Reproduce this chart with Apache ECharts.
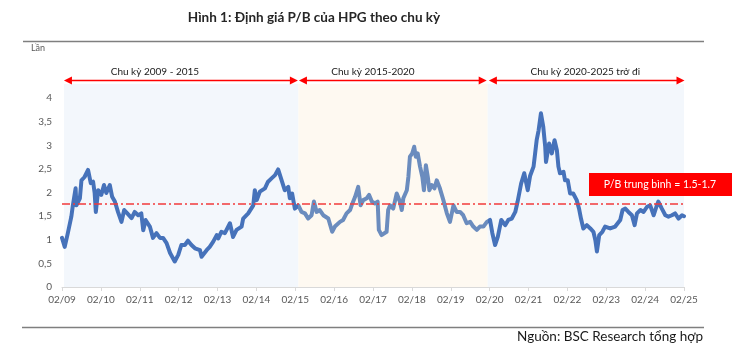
<!DOCTYPE html>
<html><head><meta charset="utf-8">
<script src="https://cdn.jsdelivr.net/npm/echarts@6/dist/echarts.min.js"></script>
<style>html,body{margin:0;padding:0;background:#fff}#c{width:732px;height:353px}</style>
</head><body><div id="c"></div>
<script>
// x = years since Feb 2009
const tickLabels = ['02/09','02/10','02/11','02/12','02/13','02/14','02/15','02/16','02/17','02/18','02/19','02/20','02/21','02/22','02/23','02/24','02/25'];
const pbTime = [0.00,0.07,0.15,0.24,0.28,0.35,0.37,0.46,0.50,0.58,
0.67,0.71,0.74,0.80,0.84,0.87,0.93,1.01,1.08,1.14,
1.23,1.29,1.36,1.44,1.53,1.60,1.68,1.79,1.87,1.96,
2.04,2.09,2.15,2.26,2.34,2.43,2.52,2.60,2.69,2.78,
2.90,2.99,3.07,3.16,3.24,3.33,3.42,3.55,3.59,3.72,
3.80,3.89,3.98,4.02,4.10,4.19,4.32,4.40,4.49,4.62,
4.66,4.79,4.92,4.96,5.01,5.09,5.22,5.30,5.39,5.48,
5.56,5.65,5.73,5.82,5.86,5.92,5.99,6.08,6.16,6.25,
6.33,6.42,6.48,6.55,6.63,6.72,6.85,6.95,7.02,7.15,
7.23,7.32,7.41,7.47,7.54,7.62,7.68,7.75,7.84,7.90,
7.97,8.05,8.12,8.15,8.22,8.26,8.35,8.39,8.44,8.52,
8.61,8.69,8.74,8.78,8.87,8.91,8.95,9.01,9.06,9.10,
9.15,9.21,9.27,9.31,9.36,9.41,9.45,9.51,9.58,9.64,
9.72,9.81,9.90,9.98,10.07,10.15,10.24,10.32,10.41,10.50,
10.58,10.67,10.75,10.84,10.93,11.01,11.07,11.14,11.21,11.30,
11.40,11.48,11.57,11.66,11.72,11.81,11.89,11.98,12.04,12.13,
12.17,12.21,12.26,12.32,12.38,12.43,12.45,12.53,12.60,12.67,
12.73,12.77,12.81,12.90,12.94,13.01,13.07,13.15,13.24,13.30,
13.35,13.41,13.50,13.59,13.67,13.72,13.76,13.82,13.90,13.97,
14.10,14.23,14.36,14.42,14.49,14.57,14.66,14.73,14.79,14.88,
14.96,15.05,15.13,15.22,15.29,15.34,15.43,15.52,15.60,15.69,
15.77,15.86,15.95,16.00];
const pbValue = [1.04,0.85,1.14,1.49,1.73,2.09,1.73,1.88,2.26,2.33,
2.48,2.51,2.20,2.23,1.99,1.59,2.05,1.95,2.16,1.99,
2.16,1.91,1.81,1.59,1.38,1.63,1.56,1.46,1.59,1.52,
1.56,1.20,1.42,1.28,1.04,1.14,1.04,1.04,0.93,0.72,
0.54,0.68,0.89,0.89,0.98,0.89,0.82,0.78,0.64,0.78,
0.85,0.96,1.10,1.03,1.17,1.14,1.35,1.06,1.21,1.28,
1.45,1.56,1.73,2.05,1.84,2.02,2.09,2.23,2.30,2.37,
2.49,2.26,2.05,2.12,1.88,1.98,1.66,1.73,1.59,1.56,
1.45,1.52,1.81,1.59,1.63,1.52,1.45,1.17,1.28,1.38,
1.42,1.56,1.63,1.77,1.91,2.12,1.73,1.84,1.88,1.95,
1.81,1.77,1.81,1.21,1.10,1.06,1.17,1.63,1.73,1.66,
1.98,1.81,1.63,1.88,2.05,2.33,2.76,2.83,2.97,2.76,
2.83,2.55,2.33,2.05,2.58,2.33,2.05,2.16,2.09,2.26,
2.09,1.84,1.56,1.38,1.73,1.59,1.59,1.52,1.35,1.38,
1.28,1.21,1.28,1.28,1.38,1.42,1.14,0.89,1.06,1.42,
1.31,1.42,1.45,1.59,1.81,2.19,2.41,2.05,2.35,2.55,
2.83,3.11,3.32,3.68,3.39,2.97,2.65,3.04,2.83,3.11,
2.90,2.55,2.41,2.44,2.26,2.26,1.98,1.98,1.84,1.66,
1.45,1.24,1.31,1.24,1.17,0.99,0.75,1.10,1.17,1.28,
1.24,1.28,1.42,1.63,1.66,1.59,1.52,1.31,1.56,1.63,
1.59,1.70,1.73,1.52,1.70,1.81,1.66,1.52,1.49,1.52,
1.56,1.45,1.52,1.50];
const cycleBounds = [0.05, 6.08, 10.95, 16.0];
const cycleNames = ['Chu kỳ 2009 - 2015', 'Chu kỳ 2015-2020', 'Chu kỳ 2020-2025 trở đi'];
const cycleLabelX = [2.39, 8.0, 13.46];
const arrowLevel = 4.38;
const avgPB = 1.77;
const avgLabel = 'P/B trung bình = 1.5-1.7';
const yMax = 4.3;

const FONT = 'Lato, "Noto Sans", sans-serif';
const chart = echarts.init(document.getElementById('c'));
const bgColors = ['#F3F7FC', '#FEF9F1', '#F3F7FC'];
const lineColors = ['#4672BA', '#6B8CBE', '#4672BA'];

chart.setOption({
  animation: false,
  textStyle: {fontFamily: FONT},
  grid: {left: 62, right: 48, top: 84, bottom: 66},
  xAxis: {
    type: 'value', min: 0, max: 16, interval: 1,
    axisLine: {lineStyle: {color: '#D9D9D9', width: 1}},
    axisTick: {show: true, length: 4, lineStyle: {color: '#D9D9D9'}},
    axisLabel: {color: '#595959', fontSize: 10, margin: 8, fontFamily: FONT,
      formatter: v => tickLabels[Math.round(v)] || ''},
    splitLine: {show: false}
  },
  yAxis: {
    type: 'value', min: 0, max: yMax, interval: 0.5,
    axisLine: {show: false}, axisTick: {show: false}, splitLine: {show: false},
    axisLabel: {color: '#595959', fontSize: 10, margin: 10, fontFamily: FONT,
      formatter: v => (v <= 4.0001 && Math.abs(v * 2 - Math.round(v * 2)) < 1e-6) ? String(v).replace('.', ',') : ''}
  },
  visualMap: {
    show: false, type: 'piecewise', dimension: 0, seriesIndex: 1,
    pieces: [
      {lt: cycleBounds[1], color: lineColors[0]},
      {gte: cycleBounds[1], lt: cycleBounds[2], color: lineColors[1]},
      {gte: cycleBounds[2], color: lineColors[2]}
    ]
  },
  series: [
    {
      type: 'line', data: [], z: 1, silent: true,
      markArea: {
        silent: true,
        data: cycleNames.map((n, i) => [
          {xAxis: cycleBounds[i], itemStyle: {color: bgColors[i]}},
          {xAxis: cycleBounds[i + 1]}
        ])
      }
    },
    {
      type: 'line', z: 2, symbol: 'none', showSymbol: false,
      lineStyle: {width: 4, join: 'round', cap: 'round'},
      data: pbTime.map((t, i) => [t, pbValue[i]])
    },
    {
      type: 'line', data: [], z: 3, silent: true,
      markLine: {
        silent: true, symbol: 'none', label: {show: false},
        lineStyle: {color: '#F23B3B', width: 1.6, type: [8, 3, 2, 3]},
        data: [{yAxis: avgPB}]
      }
    }
  ]
});

// annotations positioned through the axes
const px = (x, y) => chart.convertToPixel({gridIndex: 0}, [x, y]);
const graphics = [];
const gaps = [[0, -0.5], [0.6, -1], [1.2, 0.5]];
cycleNames.forEach((name, i) => {
  const a = px(cycleBounds[i], arrowLevel);
  const b = px(cycleBounds[i + 1], arrowLevel);
  const x0 = a[0] + gaps[i][0], x1 = b[0] + gaps[i][1], y = Math.round(a[1]) + 0.5;
  const L = 8, H = 4;
  graphics.push({type: 'line', shape: {x1: x0 + L - 1, y1: y, x2: x1 - L + 1, y2: y},
    style: {stroke: '#FF0000', lineWidth: 1.6}});
  graphics.push({type: 'polygon', shape: {points: [[x0, y], [x0 + L, y - H], [x0 + L, y + H]]},
    style: {fill: '#FF0000'}});
  graphics.push({type: 'polygon', shape: {points: [[x1, y], [x1 - L, y - H], [x1 - L, y + H]]},
    style: {fill: '#FF0000'}});
  const lp = px(cycleLabelX[i], arrowLevel);
  graphics.push({type: 'text', x: lp[0], y: y - 9,
    style: {text: name, font: '10px ' + FONT, fill: '#1A1A1A', textAlign: 'center', textVerticalAlign: 'middle'}});
});
// average label box
graphics.push({type: 'rect', shape: {x: 589, y: 173, width: 143, height: 23}, style: {fill: '#FF0000'}});
graphics.push({type: 'text', x: 660, y: 184.5,
  style: {text: avgLabel, font: '10.5px ' + FONT, fill: '#FFFFFF', textAlign: 'center', textVerticalAlign: 'middle'}});
// title, rules, unit, source
graphics.push({type: 'text', x: 314, y: 18,
  style: {text: 'Hình 1: Định giá P/B của HPG theo chu kỳ', font: 'bold 13.5px ' + FONT, fill: '#262626', textAlign: 'center', textVerticalAlign: 'middle'}});
graphics.push({type: 'line', shape: {x1: 23, y1: 41.5, x2: 704, y2: 41.5}, style: {stroke: '#7F7F7F', lineWidth: 1.3}});
graphics.push({type: 'line', shape: {x1: 22, y1: 327.5, x2: 704, y2: 327.5}, style: {stroke: '#7F7F7F', lineWidth: 1.3}});
graphics.push({type: 'text', x: 31, y: 48,
  style: {text: 'Lần', font: '9px ' + FONT, fill: '#595959', textAlign: 'left', textVerticalAlign: 'middle'}});
graphics.push({type: 'text', x: 703, y: 337,
  style: {text: 'Nguồn: BSC Research tổng hợp', font: '13.5px ' + FONT, fill: '#1A1A1A', textAlign: 'right', textVerticalAlign: 'middle'}});
graphics.forEach(g => { g.silent = true; g.z = 100; });
chart.setOption({graphic: graphics});
</script>
</body></html>
